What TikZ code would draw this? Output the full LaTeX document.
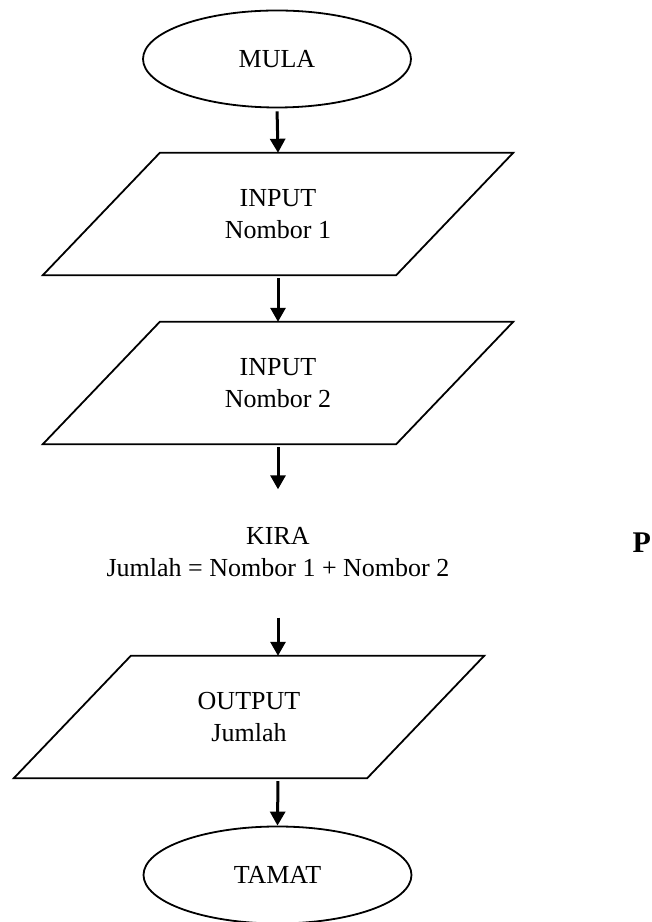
\documentclass[tikz,border=0pt]{standalone}
\usepackage{fontspec}
\setmainfont{Liberation Serif}
\usetikzlibrary{shapes.geometric,arrows.meta,positioning}

\begin{document}
\begin{tikzpicture}[x=1pt,y=1pt,
    every node/.style={font=\fontsize{26}{32}\selectfont,align=center},
    garis/.style={line width=1.8pt},
    terminal/.style={draw,garis,ellipse,minimum width=268pt,minimum height=97pt,inner sep=0pt},
    iobox/.style={minimum width=353pt,minimum height=122pt,inner sep=0pt},
    proses/.style={minimum height=125pt,inner sep=0pt},
    panah/.style={line width=3pt,-{Triangle[width=15pt,length=14pt]},shorten <=3pt}]
    \useasboundingbox (0,0) rectangle (652,922);
    \def\cerun{58.5}

    %Bentuk carta alir
    \node[terminal] (mula) at (277,863) {MULA};
    \node[iobox] (in1) at (278,708) {INPUT\\Nombor 1};
    \node[iobox] (in2) at (278,539) {INPUT\\Nombor 2};
    \node[proses] (kira) at (278,370) {KIRA\\Jumlah = Nombor 1 + Nombor 2};
    \node[iobox] (out) at (249,205) {OUTPUT\\Jumlah};
    \node[terminal] (tamat) at (277.5,47) {TAMAT};
    \node[anchor=base west,font=\fontsize{30}{36}\selectfont\bfseries] (hurufP) at (629,369) {P};

    %Jajaran input/output
    \foreach \n in {in1,in2,out}{
        \draw[garis] ([xshift=\cerun]\n.north west) -- ([xshift=\cerun]\n.north east)
            -- ([xshift=-\cerun]\n.south east) -- ([xshift=-\cerun]\n.south west) -- cycle;
    }

    %Anak panah
    \foreach \a/\b in {mula/in1,in1/in2,in2/kira}{
        \draw[panah] (\a.south) -- (\b.north);
    }
    \draw[panah] (kira.south) -- (kira.south |- out.north);
    \draw[panah] (out.south -| kira.south) -- (tamat.north);
\end{tikzpicture}
\end{document}
